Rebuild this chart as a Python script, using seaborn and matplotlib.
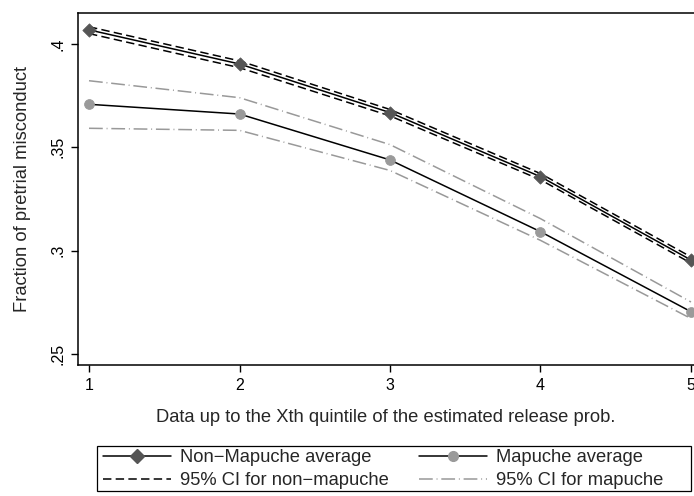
import pandas as pd
import seaborn as sns
import matplotlib.pyplot as plt
from matplotlib.lines import Line2D
from matplotlib.patches import Rectangle

# ========= Data =========
quintile = [1, 2, 3, 4, 5]
non_mapuche_avg = [0.4068, 0.3903, 0.3668, 0.3358, 0.2955]
non_mapuche_hi = [0.4083, 0.3918, 0.3683, 0.3373, 0.2970]
non_mapuche_lo = [0.4050, 0.3885, 0.3652, 0.3343, 0.2940]
mapuche_avg = [0.3708, 0.3661, 0.3439, 0.3092, 0.2705]
mapuche_hi = [0.3822, 0.3740, 0.3513, 0.3155, 0.2752]
mapuche_lo = [0.3592, 0.3582, 0.3388, 0.3050, 0.2672]
y_ticks = [0.25, 0.3, 0.35, 0.4]
y_ticklabels = [".25", ".3", ".35", ".4"]

# ========= Style =========
sns.set_theme(style="ticks")
plt.rcParams["font.family"] = ["Liberation Sans", "DejaVu Sans"]

DARK = "#555555"
LIGHT = "#9a9a9a"
GREY_LINE = "#999999"
dash_ci = (5.5, 2.8)
dashdot_ci = (9, 2.5, 0.6, 2.5)
TICK_FS = 11.5
TITLE_FS = 13.2

fig = plt.figure(figsize=(6.94, 4.96), dpi=100)
ax = fig.add_axes([0.112, 0.264, 0.888, 0.710])

sns.lineplot(x=quintile, y=non_mapuche_hi, ax=ax, color="black", lw=1.1,
             linestyle=(0, dash_ci))
sns.lineplot(x=quintile, y=non_mapuche_lo, ax=ax, color="black", lw=1.1,
             linestyle=(0, dash_ci))
sns.lineplot(x=quintile, y=non_mapuche_avg, ax=ax, color="black", lw=1.1)
sns.scatterplot(x=quintile, y=non_mapuche_avg, ax=ax, color=DARK, marker="D", s=46,
                edgecolor=DARK, zorder=5)

sns.lineplot(x=quintile, y=mapuche_hi, ax=ax, color=GREY_LINE, lw=1.1,
             linestyle=(0, dashdot_ci))
sns.lineplot(x=quintile, y=mapuche_lo, ax=ax, color=GREY_LINE, lw=1.1,
             linestyle=(0, dashdot_ci))
sns.lineplot(x=quintile, y=mapuche_avg, ax=ax, color="black", lw=1.1)
sns.scatterplot(x=quintile, y=mapuche_avg, ax=ax, color=LIGHT, marker="o", s=50,
                edgecolor=LIGHT, zorder=5)

ax.set_xlim(0.925, 5.02)
ax.set_ylim(0.2447, 0.415)
ax.set_xticks(quintile)
ax.set_yticks(y_ticks)
ax.set_yticklabels(y_ticklabels, rotation=90, va="center")
ax.tick_params(axis="both", direction="out", length=5, width=1, colors="black",
               labelsize=TICK_FS, pad=4)
for side in ["left", "bottom", "top"]:
    ax.spines[side].set_color("black")
    ax.spines[side].set_linewidth(1.1)
ax.spines["right"].set_visible(False)

ax.set_xlabel("Data up to the Xth quintile of the estimated release prob.",
              fontsize=TITLE_FS, labelpad=12)
ax.set_ylabel("Fraction of pretrial misconduct", fontsize=TITLE_FS, labelpad=14)

# ========= Legend =========
handles = [
    Line2D([], [], color="black", lw=1.1, marker="D", markersize=6.8,
           markerfacecolor=DARK, markeredgecolor=DARK),
    Line2D([], [], color="black", lw=1.1, linestyle=(0, dash_ci)),
    Line2D([], [], color="black", lw=1.1, marker="o", markersize=7,
           markerfacecolor=LIGHT, markeredgecolor=LIGHT),
    Line2D([], [], color=GREY_LINE, lw=1.1, linestyle=(0, dashdot_ci)),
]
labels = ["Non\u2212Mapuche average", "95% CI for non\u2212mapuche",
          "Mapuche average", "95% CI for mapuche"]
fig.legend(handles, labels, ncol=2, loc="upper left",
           bbox_to_anchor=(103 / 694, 1 - 449 / 496),
           borderaxespad=0, borderpad=0, frameon=False, fontsize=TITLE_FS,
           handlelength=3.7, handletextpad=0.5, labelspacing=0.34,
           columnspacing=1.65)
fig.patches.append(Rectangle((97 / 694, 1 - 491 / 496), 594 / 694, 45 / 496,
                             transform=fig.transFigure, fill=False,
                             edgecolor="black", linewidth=0.9))

fig.savefig("out.png", dpi=100)
